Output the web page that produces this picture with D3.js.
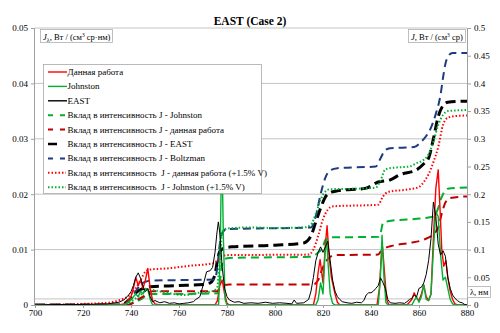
<!DOCTYPE html>
<html><head><meta charset="utf-8">
<script src="https://cdn.jsdelivr.net/npm/d3@7/dist/d3.min.js"></script>
<style>
body{margin:0;background:#fff}
svg{display:block}
svg text{font-family:'Liberation Serif','Tinos','Times New Roman','DejaVu Serif',serif !important;fill:#000}
</style>
</head><body>
<svg id="chart" width="500" height="333"></svg>
<script>
// Axis ticks
const wavelengthTicks = [700,720,740,760,780,800,820,840,860,880];
const leftTicks = [0,0.01,0.02,0.03,0.04,0.05];
const rightTicks = [0,0.05,0.1,0.15,0.2,0.25,0.3,0.35,0.4,0.45,0.5];
const refLine = [0.0011];

// Spectral intensity J_λ (left axis), [λ nm, value]
const specThisWork = [[700,0],[735,0],[738,0.0003],[740,0.0015],[741,0.003],[742,0.005],[743,0.0035],[744,0.0045],[745,0.003],[746,0.0045],[747,0.0066],[748,0.003],[749,0.0008],[750,0.0002],[752,0],[775,0],[776,0.0008],[777,0.0035],[778,0.0045],[779,0.002],[780,0.0003],[781,0],[816,0],[817,0.002],[818,0.006],[818.8,0.0082],[820,0.004],[821,0.011],[821.7,0.0143],[822.5,0.009],[823.5,0.005],[825,0.002],[826,0.0005],[827,0],[842.5,0],[843.5,0.003],[844.2,0.008],[844.8,0.0105],[845.6,0.006],[846.5,0.001],[847.5,0],[855,0],[856,0.0005],[857,0.001],[858,0.0022],[859,0.0012],[860,0.0008],[861,0.002],[862,0.0036],[863,0.0015],[864,0.0008],[865,0.002],[866,0.012],[867,0.021],[868,0.0244],[868.8,0.017],[869.5,0.01],[870.3,0.007],[871.2,0.008],[872,0.005],[873,0.0025],[874,0.001],[875,0.0002],[876,0],[880,0]];

const specJohnston = [[700,0],[737,0],[739,0.0005],[741,0.0015],[742,0.002],[743,0.0015],[744,0.0025],[745,0.002],[746,0.003],[747,0.0028],[748,0.001],[749,0],[776.5,0],[777.2,0.01],[777.8,0.03],[778.5,0.012],[779.2,0.001],[780,0],[817,0],[818,0.001],[819,0.004],[820,0.002],[820.8,0.009],[821.5,0.012],[822.2,0.007],[823,0.002],[824,0.0003],[825,0],[843,0],[843.8,0.004],[844.6,0.0126],[845.4,0.005],[846.2,0.0005],[847,0],[857,0],[858,0.0008],[859,0.0015],[860,0.0005],[861,0.0015],[862,0.0036],[863,0.001],[864,0.0008],[865,0.002],[866,0.01],[867,0.0168],[868,0.016],[869,0.009],[870,0.0045],[871,0.005],[872,0.003],[873,0.001],[874,0.0002],[875,0],[880,0]];

const specEAST = [[700,0],[710,0.0001],[720,0.0001],[730,0.0002],[735,0.0005],[737,0.0009],[739,0.0018],[740,0.0024],[741,0.0035],[742,0.005],[743,0.0058],[744,0.0048],[745,0.0034],[746,0.0024],[747,0.003],[748,0.0015],[749,0.0006],[750,0.0008],[752,0.0004],[754,0.0006],[756,0.0003],[758,0.0004],[760,0.0002],[762,0.0003],[764,0.0004],[766,0.0006],[767,0.001],[768.7,0.0015],[770,0.0035],[771.5,0.006],[773,0.0062],[774,0.0068],[775,0.0095],[775.8,0.013],[776.4,0.015],[777,0.013],[778,0.0068],[779,0.003],[780,0.0015],[781,0.0009],[783,0.0005],[785,0.0006],[787,0.0003],[790,0.0004],[793,0.0003],[796,0.0005],[799,0.0003],[802,0.0004],[805,0.0003],[807,0.0002],[808,0.0009],[809,0.0003],[812,0.0004],[814,0.001],[815,0.0025],[816,0.005],[817,0.008],[818,0.0095],[819,0.0105],[820,0.0095],[821,0.0105],[822,0.0115],[823,0.008],[824,0.0045],[825,0.0025],[826,0.0015],[827,0.001],[828,0.0006],[830,0.0004],[832,0.0003],[834,0.0005],[836,0.0004],[837,0.0008],[838,0.0018],[839,0.0022],[840,0.0022],[841,0.0025],[842,0.003],[843,0.0035],[844,0.0049],[845,0.004],[846,0.003],[847,0.001],[848,0.0004],[850,0.0003],[852,0.0004],[854,0.0003],[855,0.0006],[856,0.001],[857,0.0012],[858,0.0018],[859,0.0015],[860,0.003],[861,0.0032],[862,0.004],[863,0.0055],[864,0.008],[865,0.012],[866,0.0186],[867,0.016],[868,0.011],[869,0.009],[870,0.0098],[871,0.0088],[872,0.005],[873,0.003],[874,0.0018],[875,0.0012],[876,0.0008],[877,0.0005],[878,0.0004],[879,0.0001],[880,0]];

// Cumulative contribution to J (right axis), [λ nm, value]
const cumJohnston = [[700,0],[738,0],[741,0.004],[744,0.01],[746,0.016],[748,0.02],[760,0.02],[776,0.021],[777,0.04],[778,0.075],[779,0.083],[781,0.085],[815,0.087],[818,0.095],[820,0.105],[821,0.118],[823,0.122],[843,0.123],[844,0.13],[845,0.148],[847,0.151],[864,0.158],[866,0.16],[868,0.175],[869,0.19],[870,0.2],[872,0.21],[880,0.212]];

const cumThisWork = [[700,0],[739,0],[742,0.008],[745,0.015],[747,0.022],[749,0.025],[776,0.025],[777,0.03],[779,0.036],[781,0.037],[816,0.037],[818,0.045],[819.5,0.063],[821,0.077],[823,0.087],[825,0.09],[843,0.091],[844,0.096],[846,0.103],[848,0.106],[856,0.112],[862,0.118],[866,0.128],[868,0.14],[869.5,0.165],[871,0.185],[873,0.193],[880,0.196]];

const cumEAST = [[700,0],[736,0],[738,0.005],[740,0.012],[742,0.022],[744,0.028],[746,0.031],[748,0.033],[760,0.035],[770,0.037],[773,0.04],[775,0.055],[776,0.08],[777,0.097],[779,0.103],[782,0.105],[800,0.108],[812,0.112],[815,0.125],[817,0.15],[819,0.175],[821,0.195],[823,0.203],[826,0.206],[838,0.211],[843,0.222],[848,0.226],[852,0.235],[859,0.244],[862,0.255],[864,0.265],[866,0.3],[868,0.34],[870,0.36],[872,0.366],[880,0.368]];

const cumBoltzman = [[700,0],[736,0],[738,0.004],[740,0.012],[742,0.025],[744,0.037],[746,0.042],[748,0.044],[775,0.046],[776,0.07],[777,0.11],[778,0.13],[780,0.137],[815,0.14],[817,0.16],[819,0.2],[821,0.23],[823,0.243],[826,0.247],[842,0.25],[844,0.265],[846,0.28],[848,0.283],[858,0.285],[861,0.295],[863,0.305],[865,0.32],[867,0.345],[869,0.38],[870,0.41],[871,0.435],[872,0.448],[874,0.455],[880,0.455]];

const cumThisWorkV = [[700,0],[720,0.002],[730,0.004],[736,0.01],[739,0.016],[742,0.03],[744,0.045],[746,0.06],[748,0.064],[755,0.066],[765,0.071],[774,0.075],[776,0.08],[778,0.088],[780,0.09],[814,0.091],[816,0.1],[818,0.125],[820,0.155],[822,0.172],[824,0.178],[843,0.181],[845,0.196],[847,0.204],[856,0.209],[860,0.213],[862,0.222],[864,0.236],[866,0.258],[868,0.285],[870,0.325],[872,0.338],[875,0.341],[880,0.342]];

const cumJohnstonV = [[700,0],[736,0],[739,0.004],[742,0.012],[745,0.022],[747,0.028],[749,0.027],[755,0.022],[762,0.018],[768,0.022],[773,0.024],[775.8,0.03],[777,0.08],[778,0.132],[780,0.138],[790,0.14],[800,0.139],[812,0.14],[815,0.145],[817,0.165],[819,0.19],[821,0.205],[823,0.209],[835,0.21],[842,0.212],[844,0.225],[846,0.245],[850,0.248],[856,0.25],[859,0.256],[862,0.262],[864,0.272],[866,0.295],[868,0.325],[870,0.343],[872,0.35],[880,0.352]];

const spectra = [
  {name:"Данная работа", data:specThisWork, color:"#ff0000", width:1.4},
  {name:"Johnston", data:specJohnston, color:"#00b030", width:1.4},
  {name:"EAST", data:specEAST, color:"#000000", width:1}
];
const cumulative = [
  {name:"Вклад в интенсивность J - Johnston", data:cumJohnston, color:"#00b030", width:2, dash:"8,5", legendDash:"5,7"},
  {name:"Вклад в интенсивность J - данная работа", data:cumThisWork, color:"#c00000", width:2, dash:"8,5", legendDash:"5,7"},
  {name:"Вклад в интенсивность J - EAST", data:cumEAST, color:"#000000", width:3, dash:"10,5", legendDash:"9,20"},
  {name:"Вклад в интенсивность J - Boltzman", data:cumBoltzman, color:"#1f3b80", width:2, dash:"8,5", legendDash:"5,7"},
  {name:"Вклад в интенсивность  J - данная работа (+1.5% V)", data:cumThisWorkV, color:"#ff0000", width:2, dash:"1.5,2", legendDash:"1.5,2"},
  {name:"Вклад в интенсивность  J - Johnston (+1.5% V)", data:cumJohnstonV, color:"#00b030", width:2, dash:"1.5,2", legendDash:"1.5,2"}
];

const svg = d3.select("#chart");
const x = d3.scaleLinear([700,880],[35,467]);
const yL = d3.scaleLinear([0,0.05],[305,28]);
const yR = d3.scaleLinear([0,0.5],[305,28]);
const gridColor = "#c4c4c4", axisColor = "#a0a0a0";
const SERIF = "'Liberation Serif','Tinos','Times New Roman','DejaVu Serif',serif";

// horizontal gridlines
svg.append("g").selectAll("line").data(leftTicks.slice(1).concat(refLine)).join("line")
  .attr("x1",x(700)).attr("x2",x(880)).attr("y1",d=>yL(d)).attr("y2",d=>yL(d))
  .attr("stroke",gridColor).attr("stroke-width",1);

// axes
const fmt = d=>String(d);
const axL = svg.append("g").attr("transform",`translate(${x(700)},0)`)
  .call(d3.axisLeft(yL).tickValues(leftTicks).tickSize(4).tickPadding(3).tickFormat(fmt));
const axR = svg.append("g").attr("transform",`translate(${x(880)},0)`)
  .call(d3.axisRight(yR).tickValues(rightTicks).tickSize(4).tickPadding(3).tickFormat(fmt));
const axB = svg.append("g").attr("transform",`translate(0,${yL(0)})`)
  .call(d3.axisBottom(x).tickValues(wavelengthTicks).tickSize(3).tickPadding(2).tickFormat(fmt));
[axL,axR,axB].forEach(g=>{
  g.attr("font-family",SERIF).attr("font-size",9);
  g.selectAll("path,line").attr("stroke",axisColor);
  g.selectAll("text").attr("fill","#000");
});
axL.select(".domain").attr("d",`M-0.5,${yL(0.05)}V${yL(0)}`);
axR.select(".domain").attr("d",`M0.5,${yR(0.5)}V${yR(0)}`);

svg.append("clipPath").attr("id","plot").append("rect")
  .attr("x",x(700)).attr("y",yL(0.05)).attr("width",x(880)-x(700)).attr("height",yL(0)-yL(0.05));
const plot = svg.append("g").attr("clip-path","url(#plot)");

const lineR = d3.line().x(d=>x(d[0])).y(d=>yR(d[1])).curve(d3.curveMonotoneX);
const lineL = d3.line().x(d=>x(d[0])).y(d=>yL(d[1]));

cumulative.forEach(s=>{
  plot.append("path").attr("d",lineR(s.data)).attr("fill","none")
    .attr("stroke",s.color).attr("stroke-width",s.width).attr("stroke-dasharray",s.dash);
});
spectra.forEach(s=>{
  plot.append("path").attr("d",lineL(s.data)).attr("fill","none")
    .attr("stroke",s.color).attr("stroke-width",s.width).attr("stroke-linejoin","round");
});

const T = svg.append("g").attr("font-family",SERIF);

// title
T.append("text").attr("x",250).attr("y",25).attr("text-anchor","middle")
  .attr("font-size",11.5).attr("font-weight","bold").text("EAST (Case 2)");

// axis unit boxes
function unitBox(bx,by,bw,bh){
  T.append("rect").attr("x",bx).attr("y",by).attr("width",bw).attr("height",bh)
    .attr("fill","#fff").attr("stroke","#b0b0b0").attr("stroke-width",0.8);
}
unitBox(40.5,29.5,72,13);
const tl = T.append("text").attr("x",43).attr("y",39.5).attr("font-size",8.5);
tl.append("tspan").attr("font-style","italic").text("J");
tl.append("tspan").attr("font-size",6).attr("dy",2).text("λ");
tl.append("tspan").attr("dy",-2).text(", Вт / (см");
tl.append("tspan").attr("font-size",5.5).attr("dy",-3).text("3");
tl.append("tspan").attr("dy",3).text(" ср·нм)");

unitBox(408.5,29.5,57,13);
const tr = T.append("text").attr("x",411).attr("y",39.5).attr("font-size",8.5);
tr.append("tspan").attr("font-style","italic").text("J");
tr.append("tspan").text(", Вт / (см");
tr.append("tspan").attr("font-size",5.5).attr("dy",-3).text("3");
tr.append("tspan").attr("dy",3).text(" ср)");

unitBox(467.5,286.5,23,11);
T.append("text").attr("x",470).attr("y",295).attr("font-size",8.5).text("λ, нм");

// legend
const legend = T.append("g");
legend.append("rect").attr("x",43.5).attr("y",64.5).attr("width",218).attr("height",129)
  .attr("fill","#fff").attr("stroke","#a8a8a8").attr("stroke-width",0.8);
const entries = spectra.map(s=>({name:s.name,color:s.color,width:1.4,dash:null,x2:67}))
  .concat(cumulative.map(s=>({name:s.name,color:s.color,width:s.width===3?2.5:2,dash:s.legendDash,x2:s.width===3?57:66})));
entries.forEach((e,i)=>{
  const yy = 72 + i*14.4;
  legend.append("line").attr("x1",48).attr("x2",e.x2).attr("y1",yy).attr("y2",yy)
    .attr("stroke",e.color).attr("stroke-width",e.width).attr("stroke-dasharray",e.dash);
  legend.append("text").attr("x",67.5).attr("y",yy+3).attr("font-size",9).attr("xml:space","preserve").text(e.name);
});
</script>
</body></html>
